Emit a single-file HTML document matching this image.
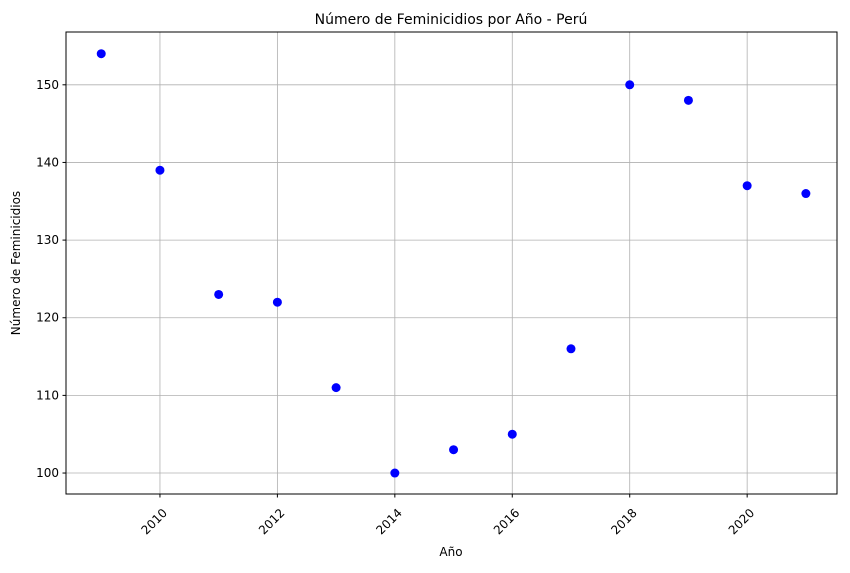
<!DOCTYPE html>
<html><head><meta charset="utf-8"><style>
body{margin:0;background:#fff;font-family:"Liberation Sans","DejaVu Sans",sans-serif}
</style></head><body>
<svg id="chart" width="850" height="568" xmlns="http://www.w3.org/2000/svg" font-family="DejaVu Sans, Liberation Sans, sans-serif">
<g id="grid"></g>
<g id="pts"></g>
<rect x="66" y="32" width="771" height="462" fill="none" stroke="#000" stroke-width="1"/>
<g id="ticks"></g>
<text x="451" y="24" text-anchor="middle" font-size="14">Número de Feminicidios por Año - Perú</text>
<text x="451" y="556" text-anchor="middle" font-size="12">Año</text>
<text transform="translate(20,263) rotate(-90)" text-anchor="middle" font-size="12">Número de Feminicidios</text>
</svg>
<script>
const years=[2009,2010,2011,2012,2013,2014,2015,2016,2017,2018,2019,2020,2021];
const counts=[154,139,123,122,111,100,103,105,116,150,148,137,136];
const xTicks=[2010,2012,2014,2016,2018,2020];
const yTicks=[100,110,120,130,140,150];
const L=66,R=837,T=32,B=494,xMin=2008.4,xMax=2021.53,yMin=97.3,yMax=156.8;
const sx=v=>L+(v-xMin)/(xMax-xMin)*(R-L);
const sy=v=>B-(v-yMin)/(yMax-yMin)*(B-T);
const NS="http://www.w3.org/2000/svg";
const mk=(t,a,p)=>{const e=document.createElementNS(NS,t);for(const k in a)e.setAttribute(k,a[k]);p.appendChild(e);return e;};
const g=document.getElementById('grid'),tk=document.getElementById('ticks'),pts=document.getElementById('pts');
xTicks.forEach(v=>{const x=sx(v);
 const l=mk('line',{x1:x,x2:x,y1:T,y2:B,stroke:'#b0b0b0','stroke-width':0.8},g);
 
 mk('line',{x1:x,x2:x,y1:B,y2:B+3.5,stroke:'#000'},tk);
 const t=mk('text',{x:x,y:B+10,'font-size':12,'text-anchor':'end',transform:`rotate(-45 ${x+4} ${B+10})`},tk);
 
 t.setAttribute('dy','0.8em');t.textContent=v;});
yTicks.forEach(v=>{const y=sy(v);
 const l=mk('line',{x1:L,x2:R,y1:y,y2:y,stroke:'#b0b0b0','stroke-width':0.8},g);
 
 mk('line',{x1:L-3.5,x2:L,y1:y,y2:y,stroke:'#000'},tk);
 const t=mk('text',{x:L-7,y:y+4,'font-size':12,'text-anchor':'end'},tk);
 
 t.textContent=v;});
years.forEach((yr,i)=>{const c=mk('circle',{cx:sx(yr),cy:sy(counts[i]),r:4.5,fill:'#0000ff'},pts);
 });
</script>
</body></html>
